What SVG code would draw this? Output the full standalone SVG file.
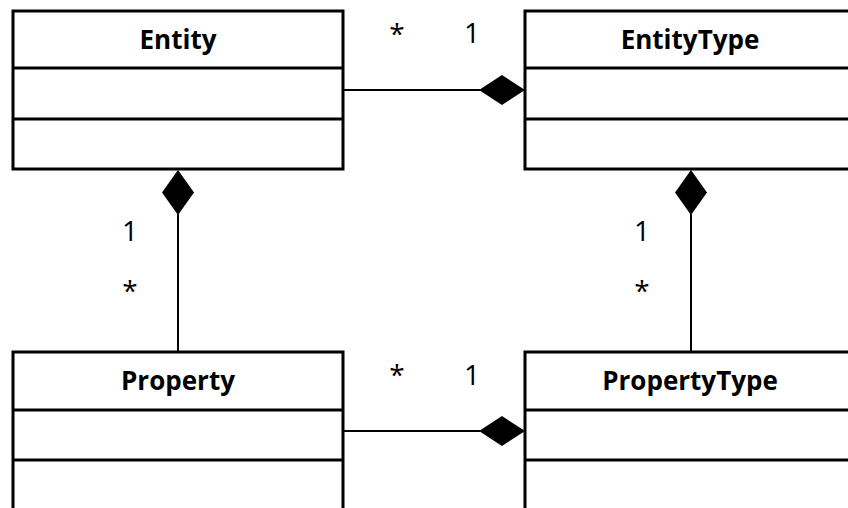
<svg xmlns="http://www.w3.org/2000/svg" width="848" height="508" viewBox="0 0 848 508">
<style>
.box{fill:#fff;stroke:#000;stroke-width:3}
.div{stroke:#000;stroke-width:3}
.title{font-family:"Open Sans","Noto Sans",sans-serif;font-weight:bold;font-size:26px;text-anchor:middle;fill:#000}
.lbl{font-family:"Open Sans","Noto Sans",sans-serif;font-size:28px;text-anchor:middle;fill:#000}
.conn{stroke:#000;stroke-width:2;fill:none}
.dia{fill:#000;stroke:none}
</style>
<rect width="848" height="508" fill="#fff"/>
<g id="connectors">
<line class="conn" x1="343" y1="90" x2="480" y2="90"/>
<polygon class="dia" points="479,90 502,75 525,90 502,105"/>
<line class="conn" x1="343" y1="431" x2="480" y2="431"/>
<polygon class="dia" points="479,431 502,416 525,431 502,446"/>
<line class="conn" x1="178" y1="214" x2="178" y2="352"/>
<polygon class="dia" points="178,170 194,192.5 178,215 162,192.5"/>
<line class="conn" x1="691" y1="214" x2="691" y2="352"/>
<polygon class="dia" points="691,170 707,192.5 691,215 675,192.5"/>
<text class="lbl" x="397" y="44">*</text>
<text class="lbl" x="472" y="43">1</text>
<text class="lbl" x="397" y="385">*</text>
<text class="lbl" x="472" y="385">1</text>
<text class="lbl" x="130" y="241">1</text>
<text class="lbl" x="130" y="301">*</text>
<text class="lbl" x="642" y="241">1</text>
<text class="lbl" x="642" y="301">*</text>
</g>
<g id="Entity">
<rect class="box" x="13" y="11" width="330" height="158"/>
<line class="div" x1="13" y1="68" x2="343" y2="68"/>
<line class="div" x1="13" y1="119" x2="343" y2="119"/>
<text class="title" x="178" y="49">Entity</text>
</g>
<g id="EntityType">
<rect class="box" x="525" y="11" width="330" height="158"/>
<line class="div" x1="525" y1="68" x2="855" y2="68"/>
<line class="div" x1="525" y1="119" x2="855" y2="119"/>
<text class="title" x="690" y="49">EntityType</text>
</g>
<g id="Property">
<rect class="box" x="13" y="352" width="330" height="170"/>
<line class="div" x1="13" y1="410" x2="343" y2="410"/>
<line class="div" x1="13" y1="460" x2="343" y2="460"/>
<text class="title" x="178" y="390">Property</text>
</g>
<g id="PropertyType">
<rect class="box" x="525" y="352" width="330" height="170"/>
<line class="div" x1="525" y1="410" x2="855" y2="410"/>
<line class="div" x1="525" y1="460" x2="855" y2="460"/>
<text class="title" x="690" y="390">PropertyType</text>
</g>
</svg>
